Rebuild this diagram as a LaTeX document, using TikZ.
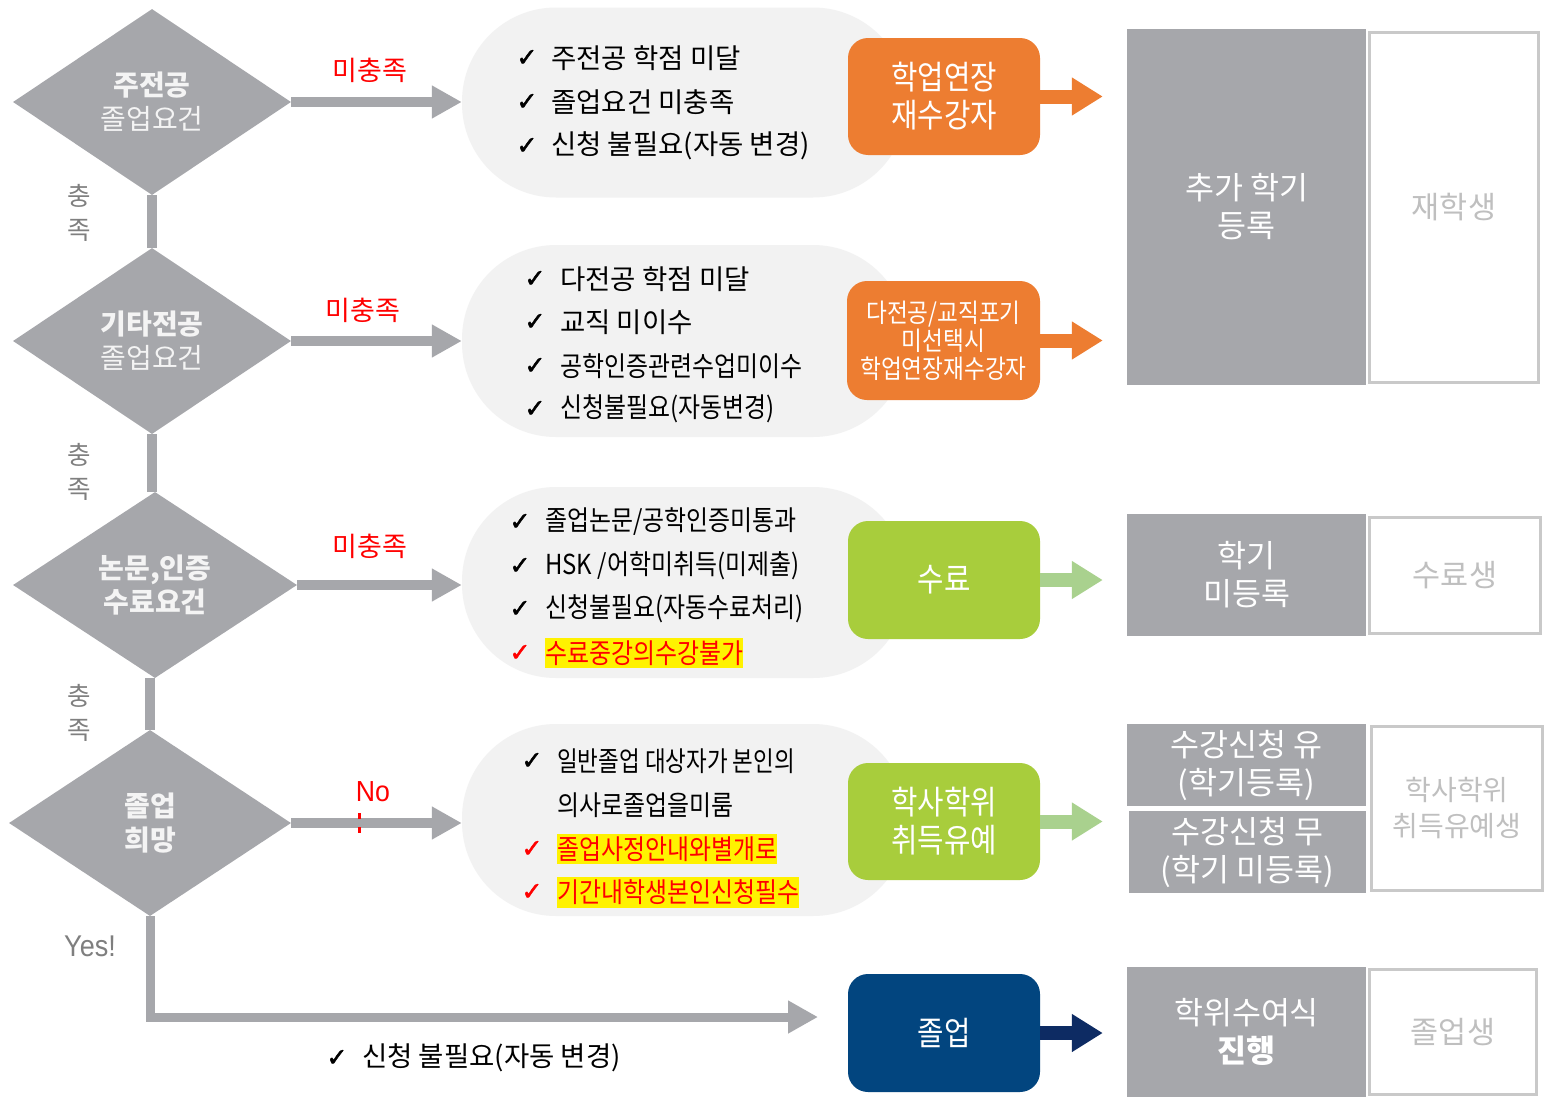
\documentclass[tikz,border=0pt]{standalone}
\usepackage{fontspec}
\usepackage{graphicx}
\setmainfont{Noto Sans CJK KR}
\newfontfamily\krc{Noto Sans CJK KR}[FakeStretch=0.87]
\newfontfamily\chkfont{DejaVu Sans}[FakeBold=2]
\newfontfamily\arialfont{Liberation Sans}
\usetikzlibrary{shapes.geometric,arrows.meta}
\definecolor{dgray}{HTML}{A6A7AB}
\definecolor{bubble}{HTML}{F2F2F2}
\definecolor{orangebox}{HTML}{ED7D31}
\definecolor{greenbox}{HTML}{A8CD3C}
\definecolor{lgreen}{HTML}{A9D18E}
\definecolor{navybox}{HTML}{02457F}
\definecolor{navyarrow}{HTML}{0D2B63}
\definecolor{wborder}{HTML}{C9C9C9}
\definecolor{ltxt}{HTML}{BFBFBF}
\definecolor{labgray}{HTML}{7F7F7F}
\definecolor{dtext}{HTML}{F4F4F4}
\newcommand\myfsl[2]{\fontsize{#1}{#2}\selectfont}
\tikzset{
  diam/.style={diamond, fill=dgray, minimum width=278pt, minimum height=186pt, inner sep=0pt,
    text=dtext, align=center, font=\myfsl{28}{34}},
  bub/.style={fill=bubble, rounded corners=94pt, minimum width=445pt, minimum height=190pt, inner sep=0pt},
  btxt/.style={anchor=west, inner sep=0pt, font=\myfsl{27.5}{30}, text=black},
  ctxt/.style={anchor=west, inner sep=0pt, font=\krc\myfsl{27.5}{30}, text=black},
  hl/.style={ctxt, fill=yellow, text=red, inner ysep=3pt},
  chk/.style={inner sep=0pt, font=\chkfont\myfsl{25}{28}},
  cbox/.style={rounded corners=20pt, minimum width=192pt, minimum height=117pt, text=white,
    align=center, inner sep=0pt, font=\krc\myfsl{33}{38}},
  rg/.style={fill=dgray, text=white, align=center, inner sep=0pt, minimum width=239pt, font=\myfsl{31.5}{38}},
  rw/.style={fill=white, draw=wborder, line width=3pt, text=ltxt, align=center, inner sep=0pt, font=\myfsl{30.5}{36}},
  miss/.style={text=red, inner sep=0pt, font=\myfsl{27}{30}},
  chung/.style={text=labgray, inner sep=0pt, align=center, font=\myfsl{25.5}{34}},
  garrow/.style={draw=dgray, line width=10pt, -{Triangle[length=30pt,width=31pt]}},
  gline/.style={draw=dgray, line width=10pt},
  carrow/.style={line width=14pt, -{Triangle[length=31pt,width=36pt]}, shorten >=24pt},
}
\begin{document}
\begin{tikzpicture}[x=1pt,y=-1pt]
\useasboundingbox[fill=white] (0,0) rectangle (1550,1103);

% ---------------- diamonds ----------------
\node[diam] (d1) at (152,102) {\textbf{주전공}\\졸업요건};
\node[diam] (d2) at (152,341) {\textbf{기타전공}\\졸업요건};
\node[diam, minimum width=284pt] (d3) at (155,585) {\textbf{논문,인증}\\\textbf{수료요건}};
\node[diam, minimum width=282pt] (d4) at (150,823) {\textbf{졸업}\\\textbf{희망}};

% vertical connectors
\draw[gline] (d1.south) -- (d1.south |- d2.north);
\draw[gline] (d2.south) -- (d2.south |- d3.north);
\draw[gline] (d3.south -| d4.north) -- (d4.north);

\node[chung] (c1) at (79,213) {충\\족};
\node[chung] (c2) at (79,472) {충\\족};
\node[chung] (c3) at (79,713) {충\\족};

% ---------------- bubbles ----------------
\node[bub] (b1) at (684.5,102.5) {};
\node[bub, minimum height=192pt] (b2) at (684.5,341) {};
\node[bub, minimum height=191pt] (b3) at (684.5,582.5) {};
\node[bub, minimum height=192pt] (b4) at (684.5,820) {};

% arrows diamond -> bubble
\draw[garrow] (d1.east) -- (d1.east -| b1.west);
\draw[garrow] (d2.east) -- (d2.east -| b2.west);
\draw[garrow] (d3.east) -- (d3.east -| b3.west);
\draw[garrow] (d4.east) -- (d4.east -| b4.west);

\node[miss] (m1) at (370,70) {미충족};
\node[miss] (m2) at (363,310) {미충족};
\node[miss] (m3) at (370,546) {미충족};
\node[text=red, inner sep=0pt, font=\arialfont\myfsl{29}{32}] (no) at (373,792) {\scalebox{0.92}[1]{No}};
\coordinate (nod1) at (359,813);
\coordinate (nod2) at (359,838);
\draw[red, line width=3pt, dash pattern=on 6pt off 8pt] (nod1) -- (nod2);

% bubble 1 text
\node[chk] (k11) at (527,58) {✓};
\node[btxt] (t11) at (551,58) {주전공 학점 미달};
\node[chk] (k12) at (527,102) {✓};
\node[btxt] (t12) at (551,102) {졸업요건 미충족};
\node[chk] (k13) at (527,146) {✓};
\node[btxt] (t13) at (551,146) {신청 불필요(자동 변경)};

% bubble 2 text
\node[chk] (k21) at (535,279) {✓};
\node[btxt] (t21) at (560,279) {다전공 학점 미달};
\node[chk] (k22) at (535,322) {✓};
\node[btxt] (t22) at (560,322) {교직 미이수};
\node[chk] (k23) at (535,366) {✓};
\node[ctxt] (t23) at (560,366) {공학인증관련수업미이수};
\node[chk] (k24) at (535,409) {✓};
\node[ctxt] (t24) at (560,409) {신청불필요(자동변경)};

% bubble 3 text
\node[chk] (k31) at (520,522) {✓};
\node[ctxt] (t31) at (545,522) {졸업논문/공학인증미통과};
\node[chk] (k32) at (520,566) {✓};
\node[ctxt] (t32) at (545,566) {HSK /어학미취득(미제출)};
\node[chk] (k33) at (520,609) {✓};
\node[ctxt] (t33) at (545,609) {신청불필요(자동수료처리)};
\node[chk, text=red] (k34) at (520,653) {✓};
\node[hl] (t34) at (545,653) {수료중강의수강불가};

% bubble 4 text
\node[chk] (k41) at (532,761) {✓};
\node[ctxt] (t41) at (557,761) {\scalebox{0.94}[1]{일반졸업 대상자가 본인의}};
\node[ctxt] (t42) at (557,805) {의사로졸업을미룸};
\node[chk, text=red] (k43) at (532,849) {✓};
\node[hl] (t43) at (557,849) {졸업사정안내와별개로};
\node[chk, text=red] (k44) at (532,892) {✓};
\node[hl] (t44) at (557,892) {기간내학생본인신청필수};

% ---------------- coloured boxes ----------------
\node[cbox, fill=orangebox] (o1) at (944,96.5) {학업연장\\재수강자};
\node[cbox, fill=orangebox, minimum width=193pt, minimum height=119pt, font=\krc\myfsl{26}{28}] (o2) at (943.5,340.5) {다전공/교직포기\\미선택시\\학업연장재수강자};
\node[cbox, fill=greenbox, minimum height=118pt] (g1) at (944,580) {수료};
\node[cbox, fill=greenbox] (g2) at (944,821.5) {학사학위\\취득유예};
\node[cbox, fill=navybox, minimum height=118pt] (n1) at (944,1033) {졸업};

% ---------------- right boxes ----------------
\node[rg, minimum height=356pt] (r1) at (1246.5,207) {추가 학기\\등록};
\node[rw, minimum width=169pt, minimum height=350pt] (w1) at (1454,207.5) {재학생};
\node[rg, minimum height=122pt] (r3) at (1246.5,575) {학기\\미등록};
\node[rw, minimum width=171pt, minimum height=116pt] (w3) at (1455,575.5) {수료생};
\node[rg, minimum height=82pt] (r4a) at (1246.5,765) {수강신청 유\\(학기등록)};
\node[rg, minimum width=237pt, minimum height=82pt] (r4b) at (1247.5,852) {수강신청 무\\(학기 미등록)};
\node[rw, minimum width=171pt, minimum height=164pt, font=\myfsl{28}{36}] (w4) at (1457,808.5) {학사학위\\취득유예생};
\node[rg, minimum height=130pt] (r5) at (1246.5,1032) {학위수여식\\\textbf{진행}};
\node[rw, minimum width=167pt, minimum height=125pt] (w5) at (1453,1032) {졸업생};

% coloured arrows
\draw[carrow, draw=orangebox, orangebox] (o1.east) -- (o1.east -| r1.west);
\draw[carrow, draw=orangebox, orangebox] (o2.east) -- (o2.east -| r1.west);
\draw[carrow, draw=lgreen, lgreen] (g1.east) -- (g1.east -| r3.west);
\draw[carrow, draw=lgreen, lgreen] (g2.east) -- (g2.east -| r4a.west);
\draw[carrow, draw=navyarrow, navyarrow] (n1.east) -- (n1.east -| r5.west);

% ---------------- yes path ----------------
\coordinate (yesend) at (818,1017);
\draw[garrow, line width=9pt] (d4.south) |- (yesend);
\node[text=labgray, inner sep=0pt, font=\arialfont\myfsl{30}{32}] (yes) at (90,946) {\scalebox{0.9}[1]{Yes!}};
\node[chk] (k51) at (337,1058) {✓};
\node[btxt] (t51) at (362,1058) {신청 불필요(자동 변경)};

\end{tikzpicture}
\end{document}
